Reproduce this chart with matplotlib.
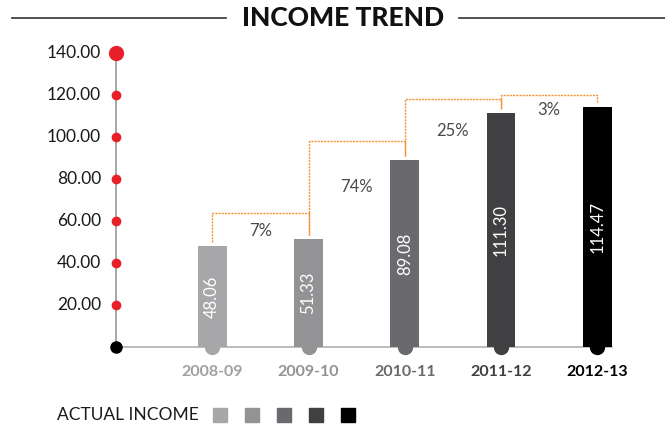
import matplotlib
matplotlib.use("Agg")
import matplotlib.pyplot as plt
from matplotlib.patches import Rectangle
from matplotlib.lines import Line2D

plt.rcParams['font.family'] = ['Lato', 'DejaVu Sans']

# data
years = ['2008-09', '2009-10', '2010-11', '2011-12', '2012-13']
income = [48.06, 51.33, 89.08, 111.30, 114.47]
bar_colors = ['#a7a7aa', '#939396', '#6a6a6e', '#404042', '#000000']
tick_colors = ['#a0a0a3', '#939396', '#6a6a6e', '#404042', '#000000']
yticks = [20, 40, 60, 80, 100, 120, 140]

# bracket heights / growth label heights
bracket_y = [64, 98, 118, 120]
pct_y = [55, 76, 103, 113]

W, H = 665, 430
fig = plt.figure(figsize=(W / 100, H / 100), dpi=100)
ax = fig.add_axes([116 / W, 83 / H, (645 - 116) / W, 294 / H])
ax.set_xlim(-1, 4.496)
ax.set_ylim(0, 140)
ax.axis('off')

x = list(range(len(years)))

# axis lines
ax.plot([-1, -1], [0, 140], color='#9a9a9a', lw=1.2, zorder=1, clip_on=False)
ax.plot([-1, 4.15], [0, 0], color='#b0b0b0', lw=1.2, zorder=1, clip_on=False)
ax.plot([-1] * 6, yticks[:-1], 'o', color='#e8202a', ms=6, zorder=3, clip_on=False)
ax.plot([-1], [140], 'o', color='#e8202a', ms=10, zorder=3, clip_on=False)
ax.plot([-1], [0], 'o', color='black', ms=8, zorder=3, clip_on=False)
for t in yticks:
    ax.text(-1.155, t, '%.2f' % t, ha='right', va='center', fontsize=12.5, color='#1a1a1a')

# bars
ax.bar(x, income, width=0.3, color=bar_colors, zorder=2)
for i, v in enumerate(income):
    ax.plot([i], [0], 'o', color=bar_colors[i], ms=10, zorder=1.5, clip_on=False)
    ax.text(i, v / 2, '%.2f' % v, rotation=90, ha='center', va='center',
            color='white', fontsize=12, zorder=4)
    ax.text(i, -8.5, years[i], ha='center', va='top', fontsize=11.5,
            fontweight='bold', color=tick_colors[i])

# growth brackets
for i in range(len(income) - 1):
    ax.plot([i, i, i + 1, i + 1], [income[i] + 2, bracket_y[i], bracket_y[i], income[i + 1] + 2],
            color='#f39233', lw=1, ls=(0, (1.5, 0.8)), zorder=1)
    growth = (income[i + 1] / income[i] - 1) * 100
    ax.text(i + 0.5, pct_y[i], '%d%%' % round(growth), ha='center', va='center',
            fontsize=12, color='#4a4a4a')

# title with side rules
ty = 1 - 18 / H
fig.add_artist(Line2D([12 / W, 226 / W], [ty, ty], color='#333333', lw=1.2))
fig.add_artist(Line2D([459 / W, 1], [ty, ty], color='#333333', lw=1.2))
fig.text(343 / W, ty, 'INCOME TREND', ha='center', va='center', fontsize=19,
         fontweight='black', color='#111111')

# legend
ly = 1 - 415 / H
fig.text(57 / W, ly, 'ACTUAL INCOME', ha='left', va='center', fontsize=12.5, color='#1a1a1a')
for k, c in enumerate(bar_colors):
    fig.add_artist(Rectangle(((213 + 32 * k) / W, ly - 7 / H), 14 / W, 14 / H,
                             color=c, transform=fig.transFigure))

fig.savefig('out.png', dpi=100)
